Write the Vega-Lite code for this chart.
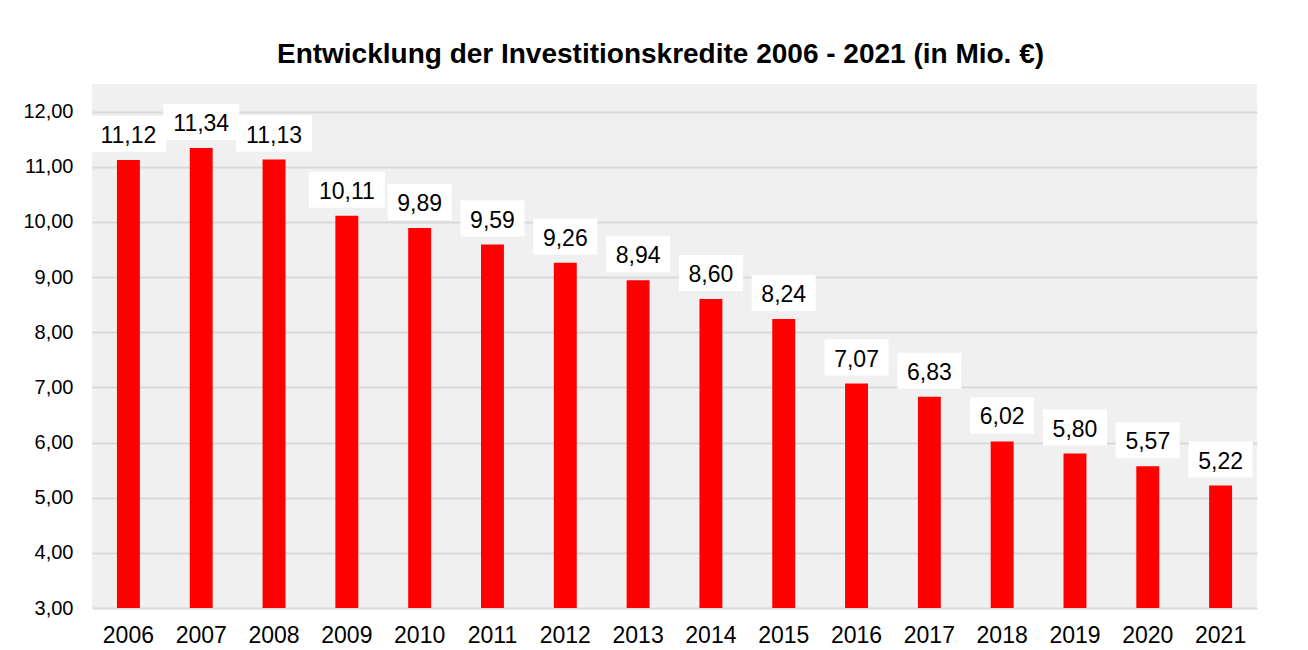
{
  "$schema": "https://vega.github.io/schema/vega-lite/v6.json",
  "autosize": {"type": "none"},
  "width": 1165,
  "height": 524,
  "padding": {"left": 92, "top": 84, "right": 51, "bottom": 42},
  "background": "white",
  "title": {
    "text": "Entwicklung der Investitionskredite 2006 - 2021 (in Mio. €)",
    "font": "Liberation Sans",
    "fontSize": 28,
    "fontWeight": "bold",
    "color": "#000000",
    "anchor": "middle",
    "dx": -14,
    "offset": 15
  },
  "config": {
    "locale": {"number": {"decimal": ",", "thousands": ".", "grouping": [3], "currency": ["", " €"]}},
    "view": {"fill": "#f0f0f0", "stroke": null}
  },
  "data": {
    "values": [
      {"year": "2006", "value": 11.12},
      {"year": "2007", "value": 11.34},
      {"year": "2008", "value": 11.13},
      {"year": "2009", "value": 10.11},
      {"year": "2010", "value": 9.89},
      {"year": "2011", "value": 9.59},
      {"year": "2012", "value": 9.26},
      {"year": "2013", "value": 8.94},
      {"year": "2014", "value": 8.60},
      {"year": "2015", "value": 8.24},
      {"year": "2016", "value": 7.07},
      {"year": "2017", "value": 6.83},
      {"year": "2018", "value": 6.02},
      {"year": "2019", "value": 5.80},
      {"year": "2020", "value": 5.57},
      {"year": "2021", "value": 5.22}
    ]
  },
  "encoding": {
    "x": {
      "field": "year",
      "type": "nominal",
      "sort": null,
      "scale": {"paddingInner": 0.685, "paddingOuter": 0.3425},
      "axis": {
        "title": null,
        "labelAngle": 0,
        "labelFont": "Liberation Sans",
        "labelFontSize": 23,
        "labelColor": "#000000",
        "labelPadding": 16,
        "ticks": false,
        "tickSize": 0,
        "domain": false,
        "grid": false
      }
    },
    "y": {
      "field": "value",
      "type": "quantitative",
      "scale": {"domain": [3, 12.5], "nice": false, "zero": false},
      "axis": {
        "title": null,
        "values": [3, 4, 5, 6, 7, 8, 9, 10, 11, 12],
        "format": ".2f",
        "labelFont": "Liberation Sans",
        "labelFontSize": 20,
        "labelColor": "#000000",
        "labelPadding": 19,
        "ticks": false,
        "tickSize": 0,
        "domain": false,
        "grid": true,
        "gridColor": "#d9d9d9",
        "gridWidth": 2
      }
    }
  },
  "layer": [
    {
      "mark": {"type": "bar", "color": "#ff0000"},
      "encoding": {
        "y2": {"datum": 3}
      }
    },
    {
      "transform": [{"filter": "datum.value >= 10"}],
      "mark": {"type": "bar", "color": "#ffffff", "width": 76, "yOffset": -44, "y2Offset": -8},
      "encoding": {
        "y2": {"field": "value"}
      }
    },
    {
      "transform": [{"filter": "datum.value < 10"}],
      "mark": {"type": "bar", "color": "#ffffff", "width": 64, "yOffset": -44, "y2Offset": -8},
      "encoding": {
        "y2": {"field": "value"}
      }
    },
    {
      "mark": {
        "type": "text",
        "font": "Liberation Sans",
        "fontSize": 23,
        "color": "#000000",
        "baseline": "middle",
        "align": "center",
        "dy": -24
      },
      "encoding": {
        "text": {"field": "value", "type": "quantitative", "format": ".2f"}
      }
    }
  ]
}
